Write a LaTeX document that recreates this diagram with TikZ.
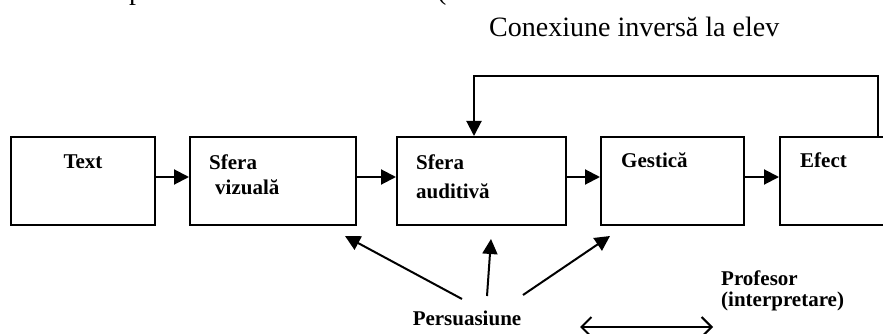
\documentclass[tikz,border=0pt]{standalone}
\usepackage{fontspec}
\setmainfont{Liberation Serif}
\usetikzlibrary{arrows.meta,positioning}

\tikzset{
  stage/.style={draw, line width=2pt, minimum height=88pt, inner sep=0pt},
  lbl/.style={font=\fontsize{21}{25}\selectfont\bfseries, align=left, inner sep=0pt},
  flow/.style={-{Triangle[length=15pt,width=15pt]}, line width=2pt},
  both/.style={{Straight Barb[length=10pt,width=20pt]}-{Straight Barb[length=10pt,width=20pt]}, line width=2pt},
}

\begin{document}
\begin{tikzpicture}[x=1pt,y=-1pt]
  \clip (0,0) rectangle (883,334);
  % cut-off line above
  \node[anchor=base west, inner sep=0pt, font=\fontsize{28}{30}\selectfont] (cutA) at (129,0) {p};
  \node[anchor=base west, inner sep=0pt, font=\fontsize{28}{30}\selectfont] (cutB) at (437,0) {(};
  \node[anchor=base west, inner sep=0pt, font=\fontsize{28}{30}\selectfont] (conex) at (489,37) {Conexiune inversă la elev};

  % chain of boxes
  \node[stage, minimum width=144pt] (txt) at (83,181) {};
  \node[stage, minimum width=166pt, right=33pt of txt] (viz) {};
  \node[stage, minimum width=169pt, right=39pt of viz] (aud) {};
  \node[stage, minimum width=143pt, right=33pt of aud] (gest) {};
  \node[stage, minimum width=143pt, right=34pt of gest] (ef) {};

  \node[lbl, anchor=base] (txtL) at ([yshift=-32pt]txt.north) {Text};
  \node[lbl, anchor=north west] (vizL) at ([xshift=20pt,yshift=-19pt]viz.north west) {Sfera\\\hspace*{6pt}vizuală};
  \node[lbl, anchor=north west] (audL) at ([xshift=20pt,yshift=-19pt]aud.north west) {Sfera\\[4pt]auditivă};
  \node[lbl, anchor=base west] (gestL) at ([xshift=21pt,yshift=-31pt]gest.north west) {Gestică};
  \node[lbl, anchor=base west] (efL) at ([xshift=21pt,yshift=-31pt]ef.north west) {Efect};

  \draw[flow] ([yshift=4pt]txt.east) -- ([yshift=4pt]viz.west);
  \draw[flow] ([yshift=4pt]viz.east) -- ([yshift=4pt]aud.west);
  \draw[flow] ([yshift=4pt]aud.east) -- ([yshift=4pt]gest.west);
  \draw[flow] ([yshift=4pt]gest.east) -- ([yshift=4pt]ef.west);

  % feedback loop
  \coordinate (fbR) at ([xshift=26.5pt]ef.north);
  \coordinate (fbL) at ([xshift=-7.5pt]aud.north);
  \draw[flow] (fbR) -- ++(0,-60) -| (fbL);

  % persuasion
  \node[lbl, anchor=base] (pers) at (467,325) {Persuasiune};
  \coordinate (pL) at (462,299);
  \coordinate (pM) at (487,296);
  \coordinate (pR) at (523,295);
  \draw[flow] (pL) -- ([xshift=-12pt,yshift=-10pt]viz.south east);
  \draw[flow] (pM) -- ([xshift=9.5pt,yshift=-13pt]aud.south);
  \draw[flow] (pR) -- ([xshift=10pt,yshift=-10pt]gest.south west);

  \node[lbl, anchor=base west, font=\fontsize{21}{21}\selectfont\bfseries] (prof) at (721,306) {Profesor\\(interpretare)};
  \coordinate (dL) at (580,327);
  \coordinate (dR) at (713,327);
  \draw[both] (dL) -- (dR);
\end{tikzpicture}
\end{document}
